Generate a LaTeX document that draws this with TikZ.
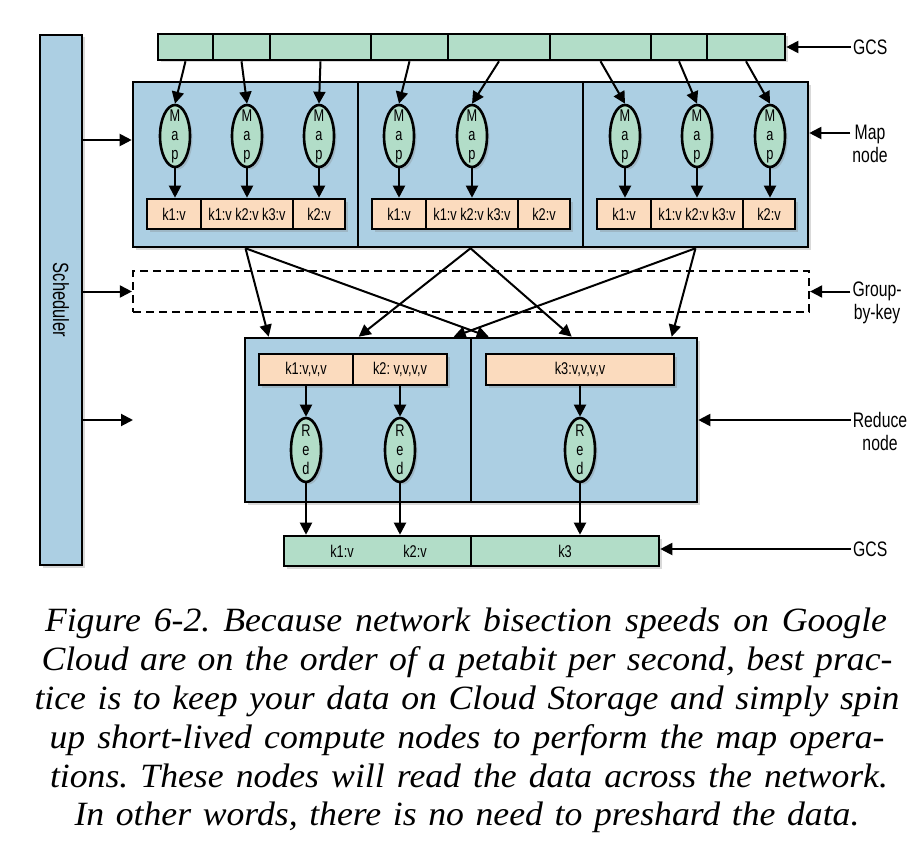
\documentclass[tikz,border=0pt]{standalone}
\usepackage{fontspec}
\newfontfamily\figfont[FakeStretch=0.75]{Liberation Sans}
\newfontfamily\capfont[FakeStretch=1.05]{Liberation Serif}
\usepackage{tikz}
\usetikzlibrary{arrows.meta, shapes, shadows}
\frenchspacing
\definecolor{gcsgreen}{RGB}{178,221,200}
\definecolor{nodeblue}{RGB}{172,207,227}
\definecolor{kvpeach}{RGB}{251,219,190}
\tikzset{
	box/.style={draw, line width=2.6pt, inner sep=0pt,
		drop shadow={shadow xshift=2.5pt, shadow yshift=-2.5pt, opacity=0.3}},
	gcs/.style={box, fill=gcsgreen, minimum height=26, font=\figfont\fontsize{17}{17}\selectfont},
	panel/.style={box, fill=nodeblue, minimum width=225, minimum height=165},
	kv/.style={box, fill=kvpeach, minimum height=30, font=\figfont\fontsize{17}{17}\selectfont},
	op/.style={ellipse, box, fill=gcsgreen, minimum width=30, minimum height=62, inner ysep=-9pt,
		align=center, font=\figfont\fontsize{17}{19}\selectfont},
	arr/.style={-{Triangle[length=12pt, width=12pt]}, line width=2pt},
	lbl/.style={align=center, inner sep=2pt, font=\figfont\fontsize{21}{23}\selectfont},
	captext/.style={anchor=base, inner sep=0pt, font=\capfont\itshape\fontsize{34}{38}\selectfont},
}
\begin{document}
\begin{tikzpicture}[x=1pt, y=-1pt]
	\useasboundingbox (0,0) rectangle (923,851);
	% scheduler
	\node[box, fill=nodeblue, minimum width=42, minimum height=530,
		font=\figfont\fontsize{22}{22}\selectfont] (sched) at (61,300) {\rotatebox{-90}{Scheduler}};
	% storage on top
	\foreach \a/\b [count=\i] in {158/213,213/270,270/371,371/448,448/550,550/651,651/707,707/785}
		\node[gcs, minimum width=\b-\a] (g\i) at ({(\a+\b)/2},47) {};
	% map nodes
	\node[panel] (mapA) at (245.5,164.5) {};
	\node[panel] (mapB) at (470.5,164.5) {};
	\node[panel] (mapC) at (695.5,164.5) {};
	\foreach \x [count=\i] in {175,247,319,399,472,625,697,770}
		\node[op] (m\i) at (\x,136) {M\\a\\p};
	\foreach \p/\o in {A/0,B/225,C/450} {
		\node[kv, minimum width=54] (kv\p1) at (174+\o,214) {k1:v};
		\node[kv, minimum width=92] (kv\p2) at (247+\o,214) {k1:v k2:v k3:v};
		\node[kv, minimum width=52] (kv\p3) at (319+\o,214) {k2:v};
	}
	\foreach \i in {1,...,8}
		\draw[arr] (g\i.south) -- (m\i.north);
	\foreach \i/\k in {1/A1,2/A2,3/A3,4/B1,5/B2,6/C1,7/C2,8/C3}
		\draw[arr] (m\i.south) -- (m\i.south |- kv\k.north);
	% group-by-key
	\node[draw, dash pattern=on 8pt off 5pt, line width=2.2pt, minimum width=676, minimum height=41] (grp) at (471,291.5) {};
	% reduce nodes
	\node[panel, minimum width=226, minimum height=164] (redA) at (358,420) {};
	\node[panel, minimum width=226, minimum height=164] (redB) at (584,420) {};
	\foreach \s/\t/\d in {mapA/redA/25, mapA/redB/19, mapB/redA/115, mapB/redB/102, mapC/redA/210, mapC/redB/202}
		\draw[arr] (\s.south) -- ([xshift=\d]\t.north west);
	\node[kv, minimum width=94, minimum height=31] (rkA1) at (306,369.5) {k1:v,v,v};
	\node[kv, minimum width=94, minimum height=31] (rkA2) at (400,369.5) {k2: v,v,v,v};
	\node[kv, minimum width=188, minimum height=31] (rkB1) at (580,369.5) {k3:v,v,v,v};
	\node[op, minimum height=64] (r1) at (306,450) {R\\e\\d};
	\node[op, minimum height=64] (r2) at (400,450) {R\\e\\d};
	\node[op, minimum height=64] (r3) at (580,450) {R\\e\\d};
	\draw[arr] (rkA1.south) -- (r1.north);
	\draw[arr] (rkA2.south) -- (r2.north);
	\draw[arr] (rkB1.south -| r3.north) -- (r3.north);
	% storage at the bottom
	\node[gcs, minimum width=187, minimum height=30] (outA) at (377.5,551) {};
	\node[gcs, minimum width=188, minimum height=30] (outB) at (565,551) {k3};
	\node[font=\figfont\fontsize{17}{17}\selectfont] (o1) at (342,551) {k1:v};
	\node[font=\figfont\fontsize{17}{17}\selectfont] (o2) at (415,551) {k2:v};
	\draw[arr] (r1.south) -- (r1.south |- outA.north);
	\draw[arr] (r2.south) -- (r2.south |- outA.north);
	\draw[arr] (r3.south) -- (r3.south |- outB.north);
	% scheduler arrows
	\coordinate (redin) at (133,420);
	\draw[arr] (sched.east |- 0,140) -- (mapA.west |- 0,140);
	\draw[arr] (sched.east |- grp.west) -- (grp.west);
	\draw[arr] (sched.east |- redin) -- (redin);
	% labels on the right
	\node[lbl, anchor=west] (lgcs) at (851,47) {GCS};
	\draw[arr] (lgcs.west) -- (g8.east);
	\node[lbl] (lmap) at (870,144) {Map\\node};
	\draw[arr] (lmap.west |- 0,133) -- (mapC.east |- 0,133);
	\node[lbl] (lgrp) at (877,303) {Group-\\by-key};
	\draw[arr] (lgrp.west |- grp.east) -- (grp.east);
	\node[lbl] (lred) at (880,431) {Reduce\\node};
	\draw[arr] (lred.west |- redB.east) -- (redB.east);
	\node[lbl, anchor=west] (lgcs2) at (851,549) {GCS};
	\draw[arr] (lgcs2.west) -- (lgcs2.west -| outB.east);
	% caption
	\node[captext] (cap1) at (466,631) {\makebox[842pt][s]{Figure 6-2. Because network bisection speeds on Google}};
	\node[captext] (cap2) at (467,670) {\makebox[851pt][s]{Cloud are on the order of a petabit per second, best prac-}};
	\node[captext] (cap3) at (467,709) {\makebox[865pt][s]{tice is to keep your data on Cloud Storage and simply spin}};
	\node[captext] (cap4) at (467,748) {\makebox[835pt][s]{up short-lived compute nodes to perform the map opera-}};
	\node[captext] (cap5) at (469,787) {\makebox[838pt][s]{tions. These nodes will read the data across the network.}};
	\node[captext] (cap6) at (467,825) {\makebox[785pt][s]{In other words, there is no need to preshard the data.}};
\end{tikzpicture}
\end{document}
